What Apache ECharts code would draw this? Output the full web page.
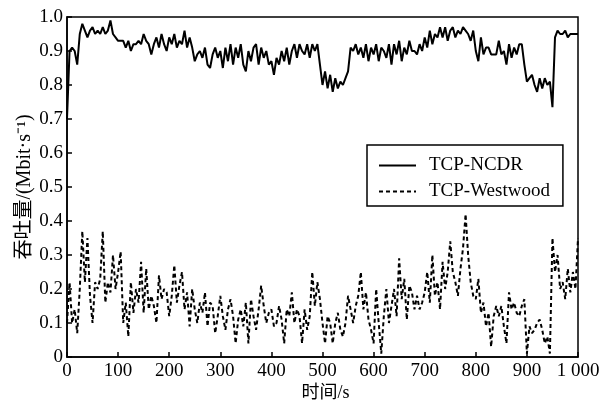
<!DOCTYPE html>
<html>
<head>
<meta charset="utf-8">
<script src="https://cdn.jsdelivr.net/npm/echarts@6/dist/echarts.min.js"></script>
<style>html,body{margin:0;padding:0;background:#fff;}#c{width:608px;height:404px;}</style>
</head>
<body>
<div id="c"></div>
<script>
// time step (s) between samples
var step = 5;
var xTicks = [0, 100, 200, 300, 400, 500, 600, 700, 800, 900, 1000];
var yTicks = [0, 0.1, 0.2, 0.3, 0.4, 0.5, 0.6, 0.7, 0.8, 0.9, 1.0];
var seriesNames = ['TCP-NCDR', 'TCP-Westwood'];

var ncdr = [
  0.70, 0.90, 0.91, 0.90, 0.86, 0.95, 0.98, 0.96, 0.94, 0.96,
  0.97, 0.95, 0.96, 0.95, 0.97, 0.95, 0.96, 0.99, 0.95, 0.94,
  0.93, 0.93, 0.93, 0.91, 0.93, 0.90, 0.92, 0.92, 0.93, 0.92,
  0.95, 0.93, 0.92, 0.89, 0.92, 0.94, 0.91, 0.95, 0.92, 0.90,
  0.94, 0.92, 0.95, 0.91, 0.93, 0.92, 0.96, 0.91, 0.94, 0.91,
  0.87, 0.89, 0.90, 0.88, 0.91, 0.86, 0.85, 0.89, 0.91, 0.88,
  0.90, 0.85, 0.91, 0.87, 0.92, 0.86, 0.91, 0.88, 0.92, 0.86,
  0.84, 0.90, 0.87, 0.91, 0.92, 0.86, 0.91, 0.88, 0.90, 0.86,
  0.87, 0.83, 0.88, 0.86, 0.90, 0.87, 0.91, 0.86, 0.90, 0.92,
  0.88, 0.92, 0.90, 0.89, 0.92, 0.88, 0.92, 0.90, 0.92, 0.86,
  0.80, 0.84, 0.79, 0.83, 0.78, 0.82, 0.79, 0.81, 0.80, 0.82,
  0.84, 0.91, 0.90, 0.92, 0.89, 0.91, 0.88, 0.92, 0.87, 0.91,
  0.89, 0.92, 0.87, 0.91, 0.90, 0.88, 0.92, 0.86, 0.92, 0.89,
  0.93, 0.87, 0.91, 0.89, 0.93, 0.90, 0.90, 0.89, 0.92, 0.90,
  0.94, 0.91, 0.96, 0.92, 0.95, 0.94, 0.97, 0.94, 0.97, 0.93,
  0.96, 0.97, 0.94, 0.96, 0.95, 0.97, 0.96, 0.95, 0.93, 0.96,
  0.90, 0.87, 0.94, 0.89, 0.91, 0.91, 0.89, 0.89, 0.89, 0.93,
  0.89, 0.90, 0.86, 0.92, 0.88, 0.91, 0.89, 0.92, 0.92, 0.86,
  0.81, 0.82, 0.83, 0.80, 0.78, 0.82, 0.79, 0.82, 0.80, 0.81,
  0.735, 0.94, 0.96, 0.95, 0.95, 0.96, 0.94, 0.95, 0.95, 0.95, 0.95
];

var westwood = [
  0.10, 0.22, 0.10, 0.14, 0.07, 0.20, 0.37, 0.22, 0.35, 0.18,
  0.10, 0.22, 0.20, 0.23, 0.37, 0.16, 0.22, 0.19, 0.30, 0.20,
  0.25, 0.31, 0.10, 0.16, 0.06, 0.22, 0.13, 0.20, 0.16, 0.28,
  0.13, 0.26, 0.14, 0.18, 0.15, 0.10, 0.24, 0.17, 0.20, 0.19,
  0.12, 0.18, 0.27, 0.16, 0.21, 0.25, 0.14, 0.19, 0.09, 0.20,
  0.14, 0.10, 0.16, 0.13, 0.19, 0.09, 0.16, 0.15, 0.07, 0.12,
  0.18, 0.12, 0.08, 0.14, 0.17, 0.12, 0.04, 0.11, 0.14, 0.09,
  0.16, 0.04, 0.17, 0.12, 0.08, 0.14, 0.21, 0.15, 0.10, 0.13,
  0.14, 0.09, 0.10, 0.15, 0.11, 0.04, 0.14, 0.12, 0.19, 0.10,
  0.14, 0.12, 0.04, 0.14, 0.08, 0.12, 0.25, 0.15, 0.22, 0.17,
  0.10, 0.04, 0.12, 0.10, 0.04, 0.10, 0.13, 0.08, 0.06, 0.10,
  0.18, 0.14, 0.10, 0.15, 0.18, 0.25, 0.14, 0.19, 0.11, 0.08,
  0.04, 0.20, 0.10, 0.01, 0.12, 0.20, 0.10, 0.15, 0.20, 0.12,
  0.29, 0.17, 0.23, 0.11, 0.21, 0.19, 0.14, 0.18, 0.14, 0.16,
  0.19, 0.25, 0.16, 0.30, 0.18, 0.22, 0.14, 0.28, 0.20, 0.25,
  0.34, 0.25, 0.22, 0.18, 0.26, 0.32, 0.42, 0.30, 0.22, 0.18,
  0.17, 0.23, 0.13, 0.16, 0.09, 0.13, 0.03, 0.12, 0.15, 0.12,
  0.15, 0.09, 0.04, 0.19, 0.14, 0.16, 0.13, 0.12, 0.15, 0.17,
  0.01, 0.09, 0.07, 0.08, 0.10, 0.11, 0.08, 0.04, 0.06, 0.01,
  0.35, 0.25, 0.30, 0.20, 0.22, 0.17, 0.26, 0.19, 0.25, 0.20, 0.35
];

function pairs(arr) {
  return arr.map(function (v, i) { return [i * step, v]; });
}

var serif = '"Liberation Serif", "Noto Sans CJK SC", serif';
var chart = echarts.init(document.getElementById('c'), null, {renderer: 'canvas'});
chart.setOption({
  animation: false,
  backgroundColor: '#fff',
  grid: {left: 67, right: 30, top: 17, bottom: 47, show: true, borderColor: '#000', borderWidth: 1.5,
         containLabel: false, outerBoundsMode: 'none'},
  legend: {
    orient: 'vertical', left: 367, top: 145,
    data: seriesNames,
    borderColor: '#000', borderWidth: 1.5, borderRadius: 0,
    padding: [11, 13, 5, 11],
    itemWidth: 37, itemHeight: 14, itemGap: 7,
    itemStyle: {opacity: 0},
    textStyle: {fontFamily: serif, fontSize: 19, color: '#000', padding: [0, 0, 0, 8]}
  },
  xAxis: {
    type: 'value', min: xTicks[0], max: xTicks[xTicks.length - 1], interval: 100,
    name: '时间/s', nameLocation: 'middle', nameGap: 27, nameMoveOverlap: false,
    nameTextStyle: {fontFamily: serif, fontSize: 18, color: '#000', padding: [0, 0, 0, 6]},
    axisLine: {show: true, lineStyle: {color: '#000', width: 1.5}},
    axisTick: {show: true, inside: true, length: 5, lineStyle: {color: '#000', width: 1.5}},
    axisLabel: {fontFamily: serif, fontSize: 19, color: '#000', margin: 5,
      formatter: function (v) { return v === 1000 ? '1 000' : String(v); }},
    splitLine: {show: false}
  },
  yAxis: {
    type: 'value', min: yTicks[0], max: yTicks[yTicks.length - 1], interval: 0.1,
    name: '吞吐量/(Mbit·s⁻¹)', nameLocation: 'middle', nameGap: 32, nameRotate: 90, nameMoveOverlap: false,
    nameTextStyle: {fontFamily: serif, fontSize: 20, color: '#000'},
    axisLine: {show: true, lineStyle: {color: '#000', width: 1.5}},
    axisTick: {show: true, inside: true, length: 5, lineStyle: {color: '#000', width: 1.5}},
    axisLabel: {fontFamily: serif, fontSize: 19, color: '#000', margin: 4,
      formatter: function (v) { return Math.abs(v) < 1e-9 ? '0' : v.toFixed(1); }},
    splitLine: {show: false}
  },
  series: [
    {name: seriesNames[0], type: 'line', data: pairs(ncdr), symbol: 'none',
     lineStyle: {color: '#000', width: 2, type: 'solid'}, itemStyle: {color: '#000'}},
    {name: seriesNames[1], type: 'line', data: pairs(westwood), symbol: 'none',
     lineStyle: {color: '#000', width: 2, type: [4, 3]}, itemStyle: {color: '#000'}}
  ]
});
</script>
</body>
</html>
